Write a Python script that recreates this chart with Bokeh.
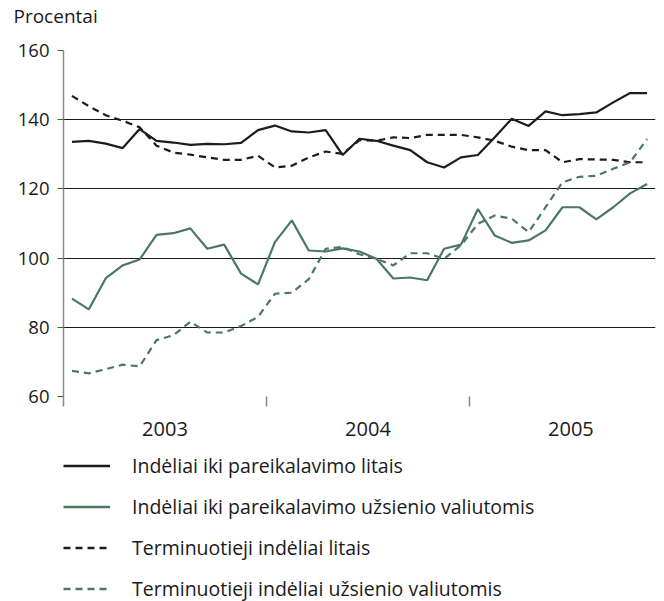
from bokeh.plotting import figure
from bokeh.layouts import column
from bokeh.models import LinearAxis, FixedTicker, Legend, LegendItem, Range1d
from bokeh.embed import file_html
from bokeh.resources import INLINE

# Monthly observations Jan 2003 .. Nov 2005 (month index, centred in month)
months = [m + 0.5 for m in range(35)]
year_labels = {6: "2003", 18: "2004", 30: "2005"}
y_ticks = [60, 80, 100, 120, 140, 160]

demand_lt = [133.6, 133.9, 133.1, 131.8, 137.3, 133.9, 133.4, 132.7, 133.0, 132.9,
             133.3, 137.0, 138.3, 136.6, 136.3, 137.0, 129.8, 134.5, 133.9, 132.5,
             131.2, 127.7, 126.2, 129.1, 129.8, 134.9, 140.3, 138.2, 142.4, 141.3,
             141.6, 142.1, 145.0, 147.7, 147.7]
demand_fx = [88.3, 85.2, 94.2, 97.9, 99.6, 106.7, 107.2, 108.6, 102.7, 103.9,
             95.5, 92.4, 104.6, 110.9, 102.2, 101.9, 102.8, 101.9, 99.8, 94.1,
             94.4, 93.6, 102.7, 103.9, 114.2, 106.5, 104.4, 105.1, 108.0, 114.7,
             114.7, 111.2, 114.7, 118.7, 121.4]
term_lt = [146.9, 143.9, 141.3, 139.7, 137.8, 132.5, 130.5, 129.9, 129.1, 128.4,
           128.4, 129.6, 126.2, 126.7, 129.1, 130.8, 130.1, 134.1, 133.9, 134.9,
           134.7, 135.6, 135.6, 135.6, 134.9, 133.9, 132.2, 131.2, 131.2, 127.7,
           128.6, 128.5, 128.4, 127.7, 127.7]
term_fx = [67.4, 66.7, 67.9, 69.2, 68.7, 76.3, 77.7, 81.6, 78.5, 78.5,
           80.4, 83.0, 89.7, 90.0, 93.9, 102.7, 103.2, 101.1, 99.8, 97.9,
           101.4, 101.4, 99.8, 103.7, 109.9, 112.3, 111.4, 107.5, 114.7, 121.9,
           123.5, 123.8, 125.8, 127.7, 134.4]

names = ["Indėliai iki pareikalavimo litais",
         "Indėliai iki pareikalavimo užsienio valiutomis",
         "Terminuotieji indėliai litais",
         "Terminuotieji indėliai užsienio valiutomis"]
series = [demand_lt, demand_fx, term_lt, term_fx]

FONT = "Open Sans"
TXT = "#1a1a1a"
BLACK = "#1c1c1c"
GREEN = "#4b7862"
styles = [dict(line_color=BLACK), dict(line_color=GREEN),
          dict(line_color=BLACK, line_dash="7 5"), dict(line_color=GREEN, line_dash="7 5")]

# header with the unit label
h = figure(width=656, height=36, output_backend="svg", toolbar_location=None,
           x_range=Range1d(0, 1), y_range=Range1d(0, 1),
           min_border_left=63, min_border_right=1, min_border_top=8,
           min_border_bottom=0, x_axis_type=None, y_axis_type=None)
h.outline_line_color = None
h.grid.visible = False
h.border_fill_color = "white"
h.title.text = "Procentai"
h.title.text_font = FONT
h.title.text_font_style = "normal"
h.title.text_font_size = "19px"
h.title.text_color = TXT
h.title.offset = -50
h.title.standoff = 0

p = figure(width=656, height=405, output_backend="svg", toolbar_location=None,
           x_range=Range1d(0, 35), y_range=Range1d(60, 160),
           min_border_left=63, min_border_right=1, min_border_top=14,
           min_border_bottom=45, x_axis_type=None)
p.outline_line_color = None
p.background_fill_color = "white"
p.border_fill_color = "white"

# y axis
ya = p.yaxis[0]
ya.ticker = FixedTicker(ticks=y_ticks)
ya.axis_line_color = "#8a8a8a"
ya.axis_line_width = 1.5
ya.major_tick_out = 6
ya.major_tick_in = 0
ya.major_tick_line_color = "#555555"
ya.minor_tick_line_color = None
ya.major_label_text_font = FONT
ya.major_label_text_font_size = "18.5px"
ya.major_label_text_color = TXT
ya.major_label_standoff = 8

p.ygrid.ticker = FixedTicker(ticks=y_ticks)
p.ygrid.grid_line_color = "#1a1a1a"
p.ygrid.grid_line_width = 1
p.xgrid.ticker = FixedTicker(ticks=[12, 24, 35])
p.xgrid.grid_line_color = "#8a8a8a"
p.xgrid.grid_line_width = 1.5

# x: separator ticks, then year labels
sep_axis = LinearAxis(ticker=FixedTicker(ticks=[0, 12, 24]),
                      major_label_overrides={0: "", 12: "", 24: ""},
                      major_tick_out=10, major_tick_in=0,
                      major_tick_line_color="#8a8a8a", major_tick_line_width=1.5,
                      minor_tick_line_color=None, axis_line_color=None,
                      major_label_text_font_size="1px", major_label_standoff=0)
p.add_layout(sep_axis, "below")
yr_axis = LinearAxis(ticker=FixedTicker(ticks=list(year_labels.keys())),
                     major_label_overrides=year_labels,
                     major_tick_line_color=None, minor_tick_line_color=None,
                     axis_line_color=None, major_label_standoff=9,
                     major_label_text_font=FONT, major_label_text_font_size="20px",
                     major_label_text_color=TXT)
p.add_layout(yr_axis, "below")

for vals, st in zip(series, styles):
    p.line(months, vals, line_width=2.2, **st)

# legend panel (same series, drawn out of view; only the legend shows)
q = figure(width=656, height=160, output_backend="svg", toolbar_location=None,
           x_range=Range1d(0, 35), y_range=Range1d(0, 1),
           min_border_left=63, min_border_right=1, min_border_top=0,
           min_border_bottom=0, x_axis_type=None, y_axis_type=None)
q.outline_line_color = None
q.grid.visible = False
q.border_fill_color = "white"
rends = [q.line(months, vals, line_width=2.4, **st) for vals, st in zip(series, styles)]

legend = Legend(items=[LegendItem(label=n, renderers=[r]) for n, r in zip(names, rends)],
                orientation="vertical", location=(0, -1),
                glyph_width=47, glyph_height=27, label_height=27,
                label_standoff=22, spacing=14, padding=0, margin=0,
                border_line_color=None, background_fill_alpha=0,
                label_text_font=FONT, label_text_font_size="19.5px",
                label_text_color=TXT)
q.add_layout(legend, "center")

open("out.html", "w").write(file_html(column(h, p, q, spacing=0), INLINE))
